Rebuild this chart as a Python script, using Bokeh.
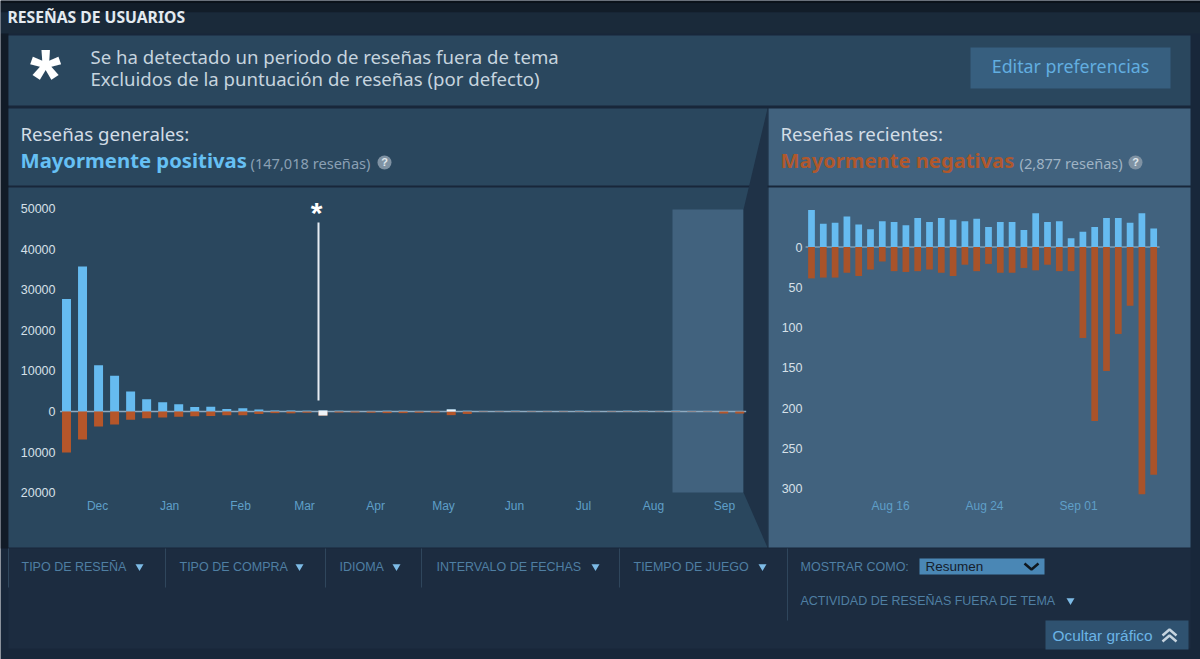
from bokeh.core.properties import value
from bokeh.embed import file_html
from bokeh.models import FixedTicker, LinearAxis, Range1d
from bokeh.plotting import figure
from bokeh.resources import INLINE

# overall reviews, one bar a week
over_up = [27700, 35700, 11400, 8800, 4900, 3000, 2300, 1800, 1100, 1200,
           600, 800, 500, 250, 250, 200, 200, 200, 150, 150,
           200, 200, 150, 150, 500, 200, 150, 150, 200, 150,
           150, 150, 200, 150, 150, 200, 200, 150, 200, 150,
           150, 100, 100]
over_down = [10100, 6900, 3700, 3200, 2050, 1650, 1500, 1300, 1200, 1100,
             900, 900, 600, 400, 450, 300, 1000, 250, 250, 300,
             400, 400, 300, 300, 900, 600, 100, 100, 100, 100,
             100, 100, 100, 100, 100, 100, 100, 100, 100, 100,
             100, 500, 500]
off_index = [16, 24]
off_up = [250, 500]
off_down = [1000, 0]
over_ticks = [50000, 40000, 30000, 20000, 10000, 0, -10000, -20000]
months = ["Dec", "Jan", "Feb", "Mar", "Apr", "May", "Jun", "Jul", "Aug", "Sep"]
month_pos = [1.94, 6.43, 10.86, 14.85, 19.28, 23.52, 27.95, 32.25, 36.62, 41.05]

# recent reviews, one bar a day
recent_up = [46, 29, 30, 38, 28, 22, 32, 31, 27, 36, 31, 36, 34, 32, 35,
             25, 31, 31, 21, 42, 31, 32, 11, 19, 25, 36, 36, 30, 42, 23]
recent_down = [39, 38, 38, 32, 36, 28, 18, 30, 31, 30, 28, 32, 36, 22, 30,
               21, 32, 32, 26, 29, 22, 30, 30, 113, 216, 154, 108, 73, 307, 283]
recent_ticks = [0, -50, -100, -150, -200, -250, -300]
days = ["Aug 16", "Aug 24", "Sep 01"]
day_pos = [6.7, 14.66, 22.63]

BLUE = "#66bbf0"
RUST = "#a9532a"
PANEL = "#2a475e"
PANEL_LIGHT = "#41627e"
FOOT = "#1c2c40"
DARK = "#18273a"
LINK = "#5f9fc8"
MUTED = "#4f7fa3"
SANS = "Noto Sans"
ARIAL = "Liberation Sans"

# the frame fills the page, so the default ranges are plain pixels
p = figure(width=1200, height=659, output_backend="svg", toolbar_location=None,
           x_range=Range1d(0, 1200), y_range=Range1d(659, 0),
           x_axis_type=None, y_axis_type=None, min_border=0,
           background_fill_color=DARK, border_fill_color=DARK)
p.grid.visible = False
p.outline_line_color = None


def x_scale(px0, step):
    return Range1d((0 - px0) / step, (1200 - px0) / step)


def y_scale(px0, step):
    return Range1d((px0 - 659) / step, px0 / step)


p.extra_x_ranges = {"over": x_scale(66, 16.03), "recent": x_scale(811, 11.8)}
p.extra_y_ranges = {"over": y_scale(411, 0.00406), "recent": y_scale(246.5, 0.805)}


def box(l, r, t, b, color):
    p.quad(left=l, right=r, top=t, bottom=b, fill_color=color, line_color=None)


def txt(x, y, s, size, color, font=SANS, style="normal", align="left"):
    p.text(x=[x], y=[y], text=[s], text_font=value(font), text_font_size=f"{size}px",
           text_font_style=style, text_color=color, text_align=align, text_baseline="middle")


def arrow(x, y):
    p.scatter(x=[x], y=[y], marker="inverted_triangle", size=8, fill_color="#7dbbe6", line_color=None)


# page blocks
box(0, 1200, 0, 3, "#0b121a")
box(0, 1200, 3, 12, "#121d29")
box(0, 1200, 12, 33, "#1a2a3a")
box(0, 8, 33, 548, "#111b27")
box(8, 1190, 35, 105, PANEL)
box(8, 767, 108, 185, PANEL)
box(8, 767, 187, 547, PANEL)
box(768, 1190, 108, 185, PANEL_LIGHT)
box(768, 1190, 187, 547, PANEL_LIGHT)
box(8, 1190, 548, 648, FOOT)
box(672, 743, 209, 492, PANEL_LIGHT)
p.patch(x=[767, 743, 743, 767], y=[108, 209, 492, 547], fill_color="#1f3247", line_color=None)

# notice
txt(7, 16, "RESEÑAS DE USUARIOS", 15.7, "#e4eaf0", style="bold")
txt(45, 77, "*", 80, "#ffffff", font=ARIAL, style="bold", align="center")
txt(90, 56, "Se ha detectado un periodo de reseñas fuera de tema", 18.6, "#c6d4df")
txt(90, 78, "Excluidos de la puntuación de reseñas (por defecto)", 18.6, "#c6d4df")
box(970, 1170, 47, 88, "#375f7f")
txt(1070, 65, "Editar preferencias", 17.8, "#62aee0", align="center")

# panel headings
txt(20, 133, "Reseñas generales:", 18.7, "#d3dde6")
txt(20, 159.5, "Mayormente positivas", 20.3, "#66c0f4", style="bold")
txt(250, 162.5, "(147,018 reseñas)", 14.6, "#8aa0b4")
txt(780, 133, "Reseñas recientes:", 18.7, "#d3dde6")
txt(780, 159.5, "Mayormente negativas", 20.2, "#b0582c", style="bold")
txt(1019, 162.5, "(2,877 reseñas)", 14.6, "#9fb3c4")
for qx in [384, 1135]:
    p.scatter(x=[qx], y=[162], size=14, fill_color="#7f92a3", line_color=None)
    txt(qx, 161, "?", 11, "#dfe6ec", font=ARIAL, style="bold", align="center")

# overall chart
over_x = list(range(len(over_up)))
p.line(x=[-0.4, 42.4], y=[0, 0], x_range_name="over", y_range_name="over", line_color="#8faac0", line_width=1.5)
p.vbar(x=over_x, top=over_up, bottom=0, width=0.56, x_range_name="over", y_range_name="over",
       fill_color=BLUE, line_color=None)
p.vbar(x=over_x, top=0, bottom=[-v for v in over_down], width=0.56, x_range_name="over", y_range_name="over",
       fill_color="#b5562a", line_color=None)
p.vbar(x=off_index, top=off_up, bottom=[-v for v in off_down], width=0.56, x_range_name="over", y_range_name="over",
       fill_color="#eef3f7", line_color=None)
p.segment(x0=[318], y0=[222], x1=[318], y1=[400], line_color="#e6edf3", line_width=2)
txt(316, 212, "*", 30, "#ffffff", font=ARIAL, style="bold", align="center")

# recent chart
recent_x = list(range(len(recent_up)))
p.line(x=[-0.5, 29.5], y=[0, 0], x_range_name="recent", y_range_name="recent", line_color="#9cbad0", line_width=1)
p.vbar(x=recent_x, top=recent_up, bottom=0, width=0.57, x_range_name="recent", y_range_name="recent",
       fill_color=BLUE, line_color=None)
p.vbar(x=recent_x, top=0, bottom=[-v for v in recent_down], width=0.57, x_range_name="recent", y_range_name="recent",
       fill_color=RUST, line_color=None)


def y_axis(range_name, ticks, loc):
    ax = LinearAxis(y_range_name=range_name, fixed_location=loc, ticker=FixedTicker(ticks=ticks),
                    major_label_overrides={t: str(abs(t)) for t in ticks})
    ax.axis_line_color = None
    ax.major_tick_line_color = None
    ax.minor_tick_line_color = None
    ax.major_tick_in = 0
    ax.major_tick_out = 0
    ax.major_label_standoff = 0
    ax.major_label_text_font = ARIAL
    ax.major_label_text_font_size = "12.5px"
    ax.major_label_text_color = "#d6e0e8"
    p.add_layout(ax, "left")


def x_axis(range_name, ticks, labels, loc):
    ax = LinearAxis(x_range_name=range_name, fixed_location=loc, ticker=FixedTicker(ticks=ticks),
                    major_label_overrides=dict(zip(ticks, labels)))
    ax.axis_line_color = None
    ax.major_tick_line_color = None
    ax.minor_tick_line_color = None
    ax.major_tick_in = 0
    ax.major_tick_out = 0
    ax.major_label_standoff = 0
    ax.major_label_text_font = ARIAL
    ax.major_label_text_font_size = "12px"
    ax.major_label_text_color = LINK
    p.add_layout(ax, "below")


y_axis("over", over_ticks, 55)
y_axis("recent", recent_ticks, 802)
x_axis("over", month_pos, months, 498)
x_axis("recent", day_pos, days, 498)

# filters
for sx, sy in [(8, 587), (165, 587), (325, 587), (421, 587), (619, 587), (787, 620)]:
    p.segment(x0=[sx], y0=[548], x1=[sx], y1=[sy], line_color="#2f465c", line_width=1)
for fx, fy, ax_, label in [(21, 566, 139, "TIPO DE RESEÑA"), (179, 566, 299, "TIPO DE COMPRA"),
                           (339, 566, 396, "IDIOMA"), (436, 566, 595, "INTERVALO DE FECHAS"),
                           (633, 566, 762, "TIEMPO DE JUEGO"),
                           (800, 600, 1070, "ACTIVIDAD DE RESEÑAS FUERA DE TEMA")]:
    txt(fx, fy, label, 12.5, MUTED, font=ARIAL)
    arrow(ax_, fy)
txt(800, 566, "MOSTRAR COMO:", 12.5, MUTED, font=ARIAL)
box(919, 1044, 558, 574, "#4a87b5")
txt(925, 566, "Resumen", 13.5, "#16202c", font=ARIAL)
p.line(x=[1024, 1031, 1038], y=[563, 569, 563], line_color="#10181f", line_width=2.5)

box(1045, 1188, 620, 649, "#2f5270")
txt(1052, 634.5, "Ocultar gráfico", 15.4, "#6bb4e6", font=ARIAL)
for cy in [635, 641]:
    p.line(x=[1162, 1169, 1176], y=[cy, cy - 6, cy], line_color="#c6d4df", line_width=2.5)

open("out.html", "w").write(file_html(p, INLINE))
